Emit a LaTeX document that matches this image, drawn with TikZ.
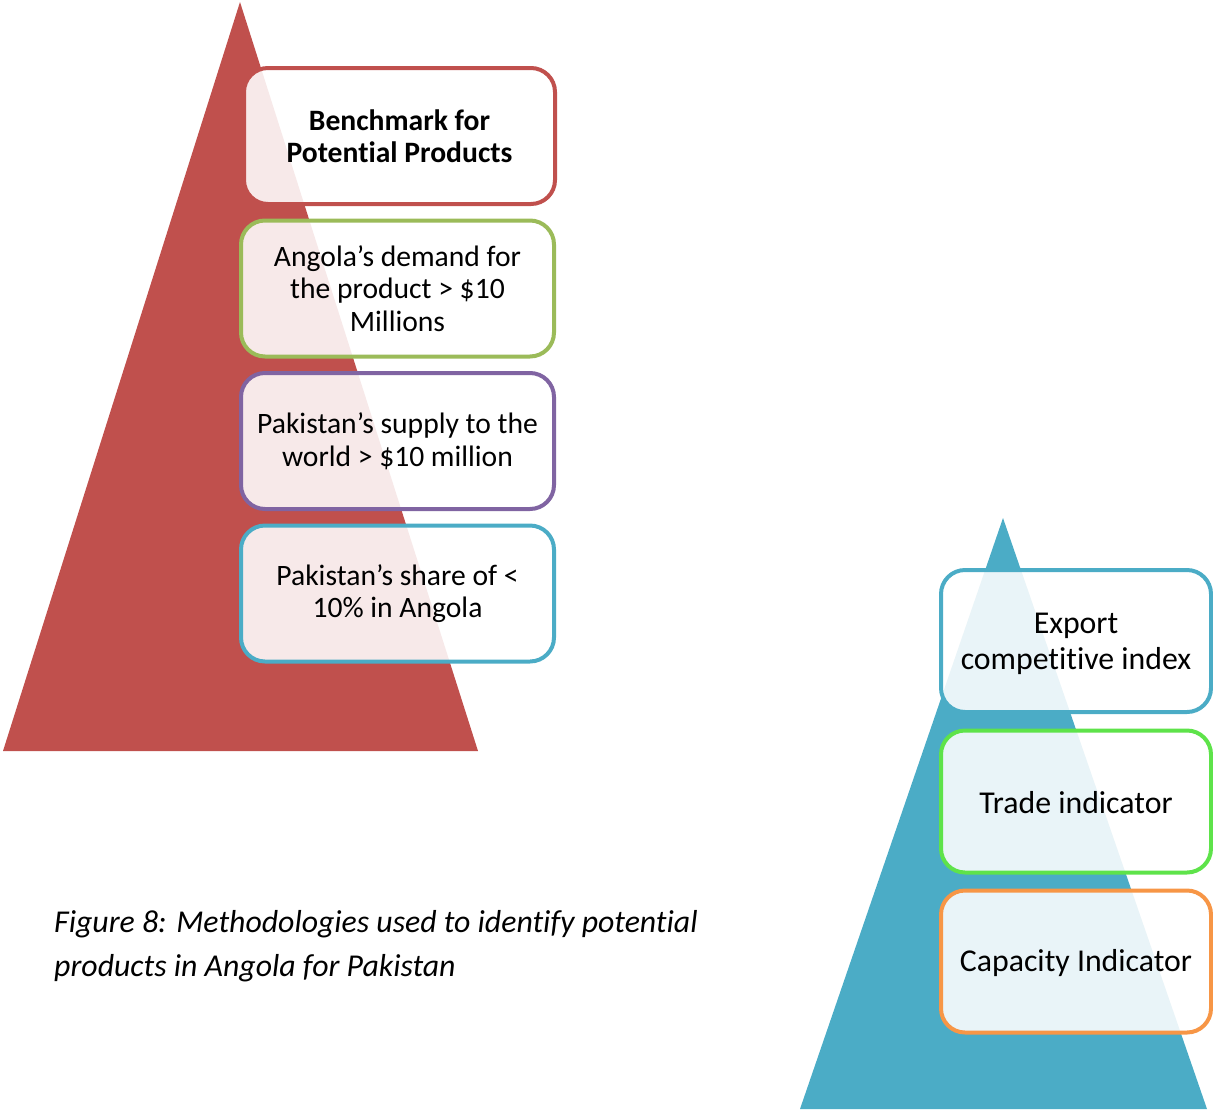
\documentclass[tikz,border=0pt]{standalone}
\usepackage{fontspec}
\setmainfont{Carlito}[Ligatures=NoCommon]
\definecolor{pred}{HTML}{C0504D}
\definecolor{pgreen}{HTML}{9BBB59}
\definecolor{ppurple}{HTML}{8064A2}
\definecolor{pcyan}{HTML}{4BACC6}
\definecolor{plime}{HTML}{5EE34A}
\definecolor{porange}{HTML}{F79646}
\begin{document}
\begin{tikzpicture}[x=1pt,y=-1pt,
  lbox/.style={draw, line width=4pt, rounded corners=24pt, fill=white, fill opacity=0.88, text opacity=1,
    align=center, inner sep=0pt, minimum width=313pt, minimum height=136pt,
    font=\fontsize{29.6}{32.5}\selectfont},
  rbox/.style={draw, line width=4pt, rounded corners=24pt, fill=white, fill opacity=0.88, text opacity=1,
    align=center, inner sep=0pt, minimum width=270pt, minimum height=142pt,
    font=\fontsize{31.8}{36}\selectfont}]
\useasboundingbox (0,0) rectangle (1213,1109);
% left pyramid
\fill[pred] (240,2) -- (478,751) -- (3,751) -- cycle;
\node[lbox, draw=pred, minimum width=311pt, minimum height=136pt] (b1) at (399.5,136) {\bfseries Benchmark for\\\bfseries Potential Products};
\node[lbox, draw=pgreen] (b2) at (397.5,288.5) {Angola’s demand for\\the product > \$10\\Millions};
\node[lbox, draw=ppurple] (b3) at (397.5,441) {Pakistan’s supply to the\\world > \$10 million};
\node[lbox, draw=pcyan] (b4) at (397.5,593.5) {Pakistan’s share of <\\10\% in Angola};
% right pyramid
\fill[pcyan] (1003,518) -- (1207,1109) -- (800,1109) -- cycle;
\node[rbox, draw=pcyan] (r1) at (1076,641) {};
\node[font=\fontsize{31.8}{36}\selectfont, align=center, inner sep=0pt] (t1) at (1076,643.5) {Export\\competitive index};
\node[rbox, draw=plime] (r2) at (1076,801.5) {};
\node[font=\fontsize{31.8}{36}\selectfont, inner sep=0pt] (t2) at (1076,803) {Trade indicator};
\node[rbox, draw=porange] (r3) at (1076,961.5) {};
\node[font=\fontsize{31.8}{36}\selectfont, inner sep=0pt] (t3) at (1076,963) {Capacity Indicator};
% caption
\node[anchor=west, align=left, inner sep=0pt, font=\fontsize{31.8}{44}\selectfont\itshape] (cap) at (54,946)
  {Figure 8: Methodologies used to identify potential\\products in Angola for Pakistan};
\end{tikzpicture}
\end{document}
